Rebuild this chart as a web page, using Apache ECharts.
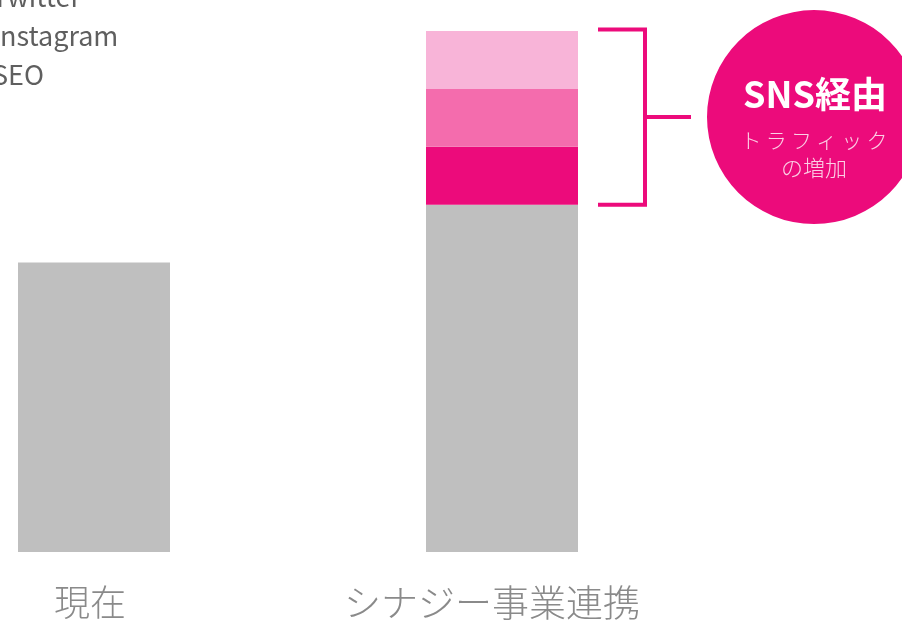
<!DOCTYPE html>
<html>
<head>
<meta charset="utf-8">
<script src="https://cdn.jsdelivr.net/npm/echarts@6/dist/echarts.min.js"></script>
<style>html,body{margin:0;padding:0;background:#fff}#c{width:902px;height:621px}</style>
</head>
<body>
<div id="c"></div>
<script>
var categories = ['現在', 'シナジー事業連携'];
var baseValues = [100, 120];
var seoValues = [0, 20];
var instagramValues = [0, 20];
var twitterValues = [0, 20];
var legendNames = ['Twitter', 'Instagram', 'SEO'];
var calloutTitle = 'SNS経由';
var calloutSub1 = 'トラフィック';
var calloutSub2 = 'の増加';

var FONT = '"Noto Sans CJK JP", "Noto Sans", sans-serif';
var PINK = '#EC0B7B';
var BAR_W = 152;

var chart = echarts.init(document.getElementById('c'), null, {renderer: 'canvas'});
var option = {
  animation: false,
  backgroundColor: '#fff',
  textStyle: {fontFamily: FONT},
  legend: {
    data: legendNames,
    orient: 'vertical',
    left: -38,
    top: -17,
    padding: 0,
    itemWidth: 25,
    itemHeight: 14,
    itemGap: 12,
    selectedMode: false,
    textStyle: {fontFamily: FONT, fontSize: 27, color: '#5f5f5f'}
  },
  grid: {left: -110, width: 816, top: 31, bottom: 69, outerBoundsMode: 'none', containLabel: false},
  xAxis: {
    type: 'category',
    data: categories,
    axisLine: {show: false},
    axisTick: {show: false},
    axisLabel: {
      interval: 0, hideOverlap: false, margin: 32,
      formatter: function (v, i) { return '{' + (i === 0 ? 'a' : 'b') + '|' + v + '}'; },
      rich: {
        a: {fontFamily: FONT, fontSize: 36, fontWeight: 300, color: '#8a8a8a', padding: [0, 8, 0, 0]},
        b: {fontFamily: FONT, fontSize: 37, fontWeight: 300, color: '#8a8a8a', padding: [0, 20, 0, 0]}
      }
    }
  },
  yAxis: {
    type: 'value',
    min: 0,
    max: 180,
    show: false,
    splitLine: {show: false}
  },
  series: [
    {name: 'base', type: 'bar', stack: 't', barWidth: BAR_W, data: baseValues, itemStyle: {color: '#BFBFBF'}},
    {name: 'SEO', type: 'bar', stack: 't', barWidth: BAR_W, data: seoValues, itemStyle: {color: PINK}},
    {name: 'Instagram', type: 'bar', stack: 't', barWidth: BAR_W, data: instagramValues, itemStyle: {color: '#F46CAD'}},
    {name: 'Twitter', type: 'bar', stack: 't', barWidth: BAR_W, data: twitterValues, itemStyle: {color: '#F8B4D8'}}
  ]
};
chart.setOption(option);

// annotation positioned from the data scale
var total = baseValues[1] + seoValues[1] + instagramValues[1] + twitterValues[1];
var pTop = chart.convertToPixel({seriesIndex: 0}, [1, total]);
var pBot = chart.convertToPixel({seriesIndex: 0}, [1, baseValues[1]]);
var barRight = pTop[0] + BAR_W / 2;
var yT = pTop[1] - 1.5, yB = pBot[1];
var xL = barRight + 20, xV = barRight + 67, xM = barRight + 113;
var yMid = (yT + yB) / 2;
var cx = barRight + 236, cy = yMid, r = 107;

chart.setOption({
  graphic: [
    {type: 'polyline', shape: {points: [[xL, yT], [xV, yT], [xV, yB], [xL, yB]]}, style: {stroke: PINK, lineWidth: 4, fill: null}},
    {type: 'line', shape: {x1: xV, y1: yMid, x2: xM, y2: yMid}, style: {stroke: PINK, lineWidth: 4}},
    {type: 'circle', shape: {cx: cx, cy: cy, r: r}, style: {fill: PINK}},
    {type: 'text', x: cx + 1, y: cy - 23, style: {text: calloutTitle, fill: '#fff', font: 'bold 36px ' + FONT, align: 'center', verticalAlign: 'middle'}},
    {type: 'text', x: cx, y: cy + 23, style: {text: calloutSub1.split('').join('\u2009'), fill: '#FBD0E5', font: '300 21px ' + FONT, align: 'center', verticalAlign: 'middle'}},
    {type: 'text', x: cx, y: cy + 51, style: {text: calloutSub2, fill: '#FBD0E5', font: '300 22px ' + FONT, align: 'center', verticalAlign: 'middle'}}
  ]
});
</script>
</body>
</html>
